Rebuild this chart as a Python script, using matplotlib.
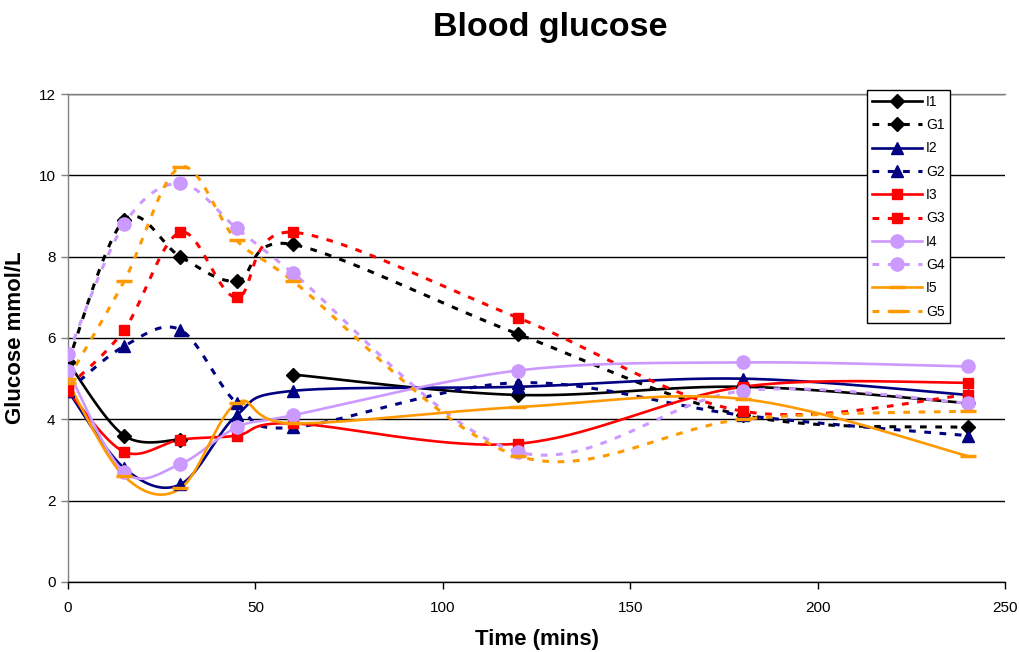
import numpy as np
import matplotlib
matplotlib.use("Agg")
import matplotlib.pyplot as plt
from matplotlib.lines import Line2D

plt.rcParams['font.family'] = ['Liberation Sans', 'DejaVu Sans']

# Sampling times (minutes)
time = [0, 15, 30, 45, 60, 120, 180, 240]

# Blood glucose (mmol/L); nan = no reading
i1 = [5.4, 3.6, 3.5, np.nan, 5.1, 4.6, 4.8, 4.4]
g1 = [5.4, 8.9, 8.0, 7.4, 8.3, 6.1, 4.1, 3.8]
i2 = [4.7, 2.8, 2.4, 4.1, 4.7, 4.8, 5.0, 4.6]
g2 = [4.7, 5.8, 6.2, 4.4, 3.8, 4.9, 4.1, 3.6]
i3 = [4.7, 3.2, 3.5, 3.6, 3.9, 3.4, 4.8, 4.9]
g3 = [4.8, 6.2, 8.6, 7.0, 8.6, 6.5, 4.2, 4.6]
i4 = [5.2, 2.7, 2.9, 3.8, 4.1, 5.2, 5.4, 5.3]
g4 = [5.6, 8.8, 9.8, 8.7, 7.6, 3.2, 4.7, 4.4]
i5 = [4.9, 2.6, 2.3, 4.4, 3.9, 4.3, 4.5, 3.1]
g5 = [5.0, 7.4, 10.2, 8.4, 7.4, 3.1, 4.0, 4.2]

series_names = ["I1", "G1", "I2", "G2", "I3", "G3", "I4", "G4", "I5", "G5"]
series_values = [i1, g1, i2, g2, i3, g3, i4, g4, i5, g5]

x_ticks = [0, 50, 100, 150, 200, 250]
y_ticks = [0, 2, 4, 6, 8, 10, 12]

colors = {"1": "#000000", "2": "#000080", "3": "#FF0000", "4": "#CC99FF", "5": "#FF9900"}
markers = {"1": ("D", 7), "2": ("^", 8.5), "3": ("s", 6.5), "4": ("o", 9.5), "5": ("_", 11)}
dash = (0, (2.2, 2.8))


def smooth(xs, ys, n=40):
    """Cardinal (Catmull-Rom) Bezier smoothing of each unbroken run of points."""
    xs = np.asarray(xs, float)
    ys = np.asarray(ys, float)
    ok = ~np.isnan(ys)
    runs, cur = [], []
    for k in range(len(xs)):
        if ok[k]:
            cur.append(k)
        elif cur:
            runs.append(cur)
            cur = []
    if cur:
        runs.append(cur)
    out = []
    for r in runs:
        P = np.column_stack([xs[r], ys[r]])
        m = len(P)
        if m == 1:
            out.append(P)
            continue
        pts = []
        t = np.linspace(0, 1, n)[:, None]
        for j in range(m - 1):
            p0 = P[max(j - 1, 0)]
            p1 = P[j]
            p2 = P[j + 1]
            p3 = P[min(j + 2, m - 1)]
            c1 = p1 + (p2 - p0) / 6.0
            c2 = p2 - (p3 - p1) / 6.0
            seg = ((1 - t) ** 3) * p1 + 3 * ((1 - t) ** 2) * t * c1 \
                + 3 * (1 - t) * t ** 2 * c2 + t ** 3 * p2
            pts.append(seg if j == 0 else seg[1:])
        out.append(np.vstack(pts))
    return out


fig = plt.figure(figsize=(10.19, 6.52), dpi=100)
ax = fig.add_axes([0.0667, 0.1074, 0.9196, 0.7484])

handles = []
for name, vals in zip(series_names, series_values):
    key = name[1]
    col = colors[key]
    mk, ms = markers[key]
    ls = "-" if name[0] == "I" else dash
    lw = 1.9 if name[0] == "I" else 2.2
    for run in smooth(time, vals):
        ax.plot(run[:, 0], run[:, 1], color=col, lw=lw, linestyle=ls,
                zorder=3, solid_capstyle="butt", dash_capstyle="butt")
    mew = 2.5 if mk == "_" else 1.0
    ax.plot(time, vals, linestyle="none", marker=mk, ms=ms, color=col,
            mec=col, mew=mew, zorder=4)
    handles.append(Line2D([], [], color=col, lw=lw, linestyle=ls,
                          marker=mk, ms=ms, mec=col, mew=mew, label=name))

ax.set_xlim(0, 250)
ax.set_ylim(0, 12)
ax.set_xticks(x_ticks)
ax.set_yticks(y_ticks)
ax.tick_params(axis="both", direction="out", length=5, width=1,
               labelsize=11, colors="#000000")
ax.tick_params(axis="y", color="#808080", pad=4)
ax.tick_params(axis="x", color="#000000", pad=9)
ax.yaxis.grid(True, color="#000000", lw=1)
ax.set_axisbelow(True)
ax.spines["right"].set_visible(False)
ax.spines["top"].set_color("#808080")
ax.spines["left"].set_color("#808080")
ax.spines["bottom"].set_color("#000000")
for s in ["top", "left", "bottom"]:
    ax.spines[s].set_linewidth(1)

ax.set_xlabel("Time (mins)", fontsize=16, fontweight="bold", labelpad=10)
ax.set_ylabel("Glucose mmol/L", fontsize=16, fontweight="bold", labelpad=9)
fig.text(0.54, 0.958, "Blood glucose", fontsize=24.5, fontweight="bold",
         ha="center", va="center")

leg = ax.legend(handles=handles, loc="upper left",
                bbox_to_anchor=(867 / 1019, (652 - 90) / 652),
                bbox_transform=fig.transFigure, fontsize=10, frameon=True,
                fancybox=False, edgecolor="#000000", framealpha=1,
                handlelength=3.6, handletextpad=0.3, labelspacing=0.67,
                borderpad=0.35, borderaxespad=0)
leg.get_frame().set_linewidth(1)

fig.savefig("out.png", dpi=100)
